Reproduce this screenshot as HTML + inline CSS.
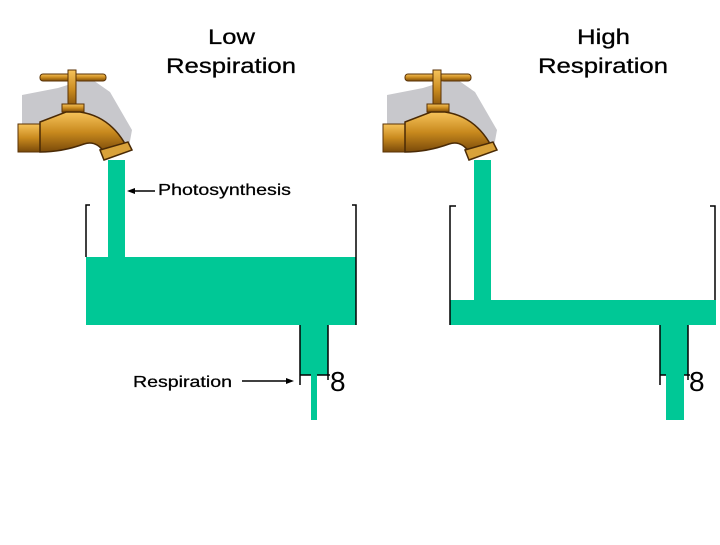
<!DOCTYPE html>
<html><head><style>
body{margin:0;width:720px;height:540px;background:#fff;overflow:hidden;font-family:"Liberation Sans",sans-serif}
</style></head><body>
<svg width="720" height="540" xmlns="http://www.w3.org/2000/svg">
<defs>
<linearGradient id="g" x1="0" y1="0" x2="0" y2="1">
<stop offset="0" stop-color="#f6c35a"/><stop offset="0.5" stop-color="#c98a1e"/><stop offset="1" stop-color="#7a4a0a"/>
</linearGradient>
<g id="faucet">
<path d="M22 95 L58 88 L90 78 L110 92 L132 130 L128 152 L100 150 L96 130 L76 122 L56 132 L22 132 Z" fill="#c8c8cc"/>
<rect x="40" y="74" width="66" height="7" rx="3" fill="url(#g)" stroke="#5a3205" stroke-width="1"/>
<rect x="68" y="70" width="8" height="40" fill="url(#g)" stroke="#5a3205" stroke-width="1"/>
<rect x="62" y="104" width="22" height="8" fill="url(#g)" stroke="#5a3205" stroke-width="1"/>
<rect x="18" y="124" width="24" height="28" fill="url(#g)" stroke="#5a3205" stroke-width="1"/>
<path d="M40 122 L66 112 L80 112 Q108 116 124 142 L124 150 L104 152 Q96 140 84 144 Q62 152 40 152 Z" fill="url(#g)" stroke="#4a2a05" stroke-width="1.5"/>
<path d="M100 150 L128 142 L132 150 L104 160 Z" fill="#d9a23a" stroke="#4a2a05" stroke-width="1.5"/>
</g>
</defs>
<g fill="#00c896">
<rect x="108" y="160" width="17" height="100"/>
<rect x="86" y="257" width="270" height="68"/>
<rect x="300" y="325" width="28" height="50"/>
<rect x="311" y="375" width="6" height="45"/>
<rect x="474" y="160" width="17" height="142"/>
<rect x="450" y="300" width="266" height="25"/>
<rect x="660" y="325" width="28" height="50"/>
<rect x="666" y="375" width="18" height="45"/>
</g>
<g stroke="#000" stroke-width="1.5" fill="none">
<path d="M90 205 H86 V257"/><path d="M352 205 H356 V325"/>
<path d="M456 206 H450 V325"/><path d="M710 206 H715 V300"/>
<path d="M300 325 V385 M300 375 H311 M317 375 H330 M328 325 V380"/>
<path d="M660 325 V385 M660 375 H666 M684 375 H690 M688 325 V380"/>
<path d="M155 191 H132"/><path d="M242 381 H288"/>
</g>
<path d="M127 191 L135 188 L135 194 Z" fill="#000"/>
<path d="M294 381 L286 378 L286 384 Z" fill="#000"/>
<use href="#faucet"/>
<use href="#faucet" x="365"/>
<g font-family="Liberation Sans, sans-serif" fill="#000" font-size="21" stroke="#000" stroke-width="0.3">
<text x="208" y="44" textLength="47" lengthAdjust="spacingAndGlyphs">Low</text>
<text x="166" y="73" textLength="130" lengthAdjust="spacingAndGlyphs">Respiration</text>
<text x="577" y="44" textLength="53" lengthAdjust="spacingAndGlyphs">High</text>
<text x="538" y="73" textLength="130" lengthAdjust="spacingAndGlyphs">Respiration</text>
</g>
<g font-family="Liberation Sans, sans-serif" font-size="16" fill="#000" stroke="#000" stroke-width="0.25">
<text x="158" y="195" textLength="133" lengthAdjust="spacingAndGlyphs">Photosynthesis</text>
<text x="133" y="387" textLength="99" lengthAdjust="spacingAndGlyphs">Respiration</text>
</g>
<g font-family="Liberation Sans, sans-serif" font-size="28" fill="#000">
<text x="330" y="391">8</text>
<text x="689" y="391">8</text>
</g>
</svg>
</body></html>
